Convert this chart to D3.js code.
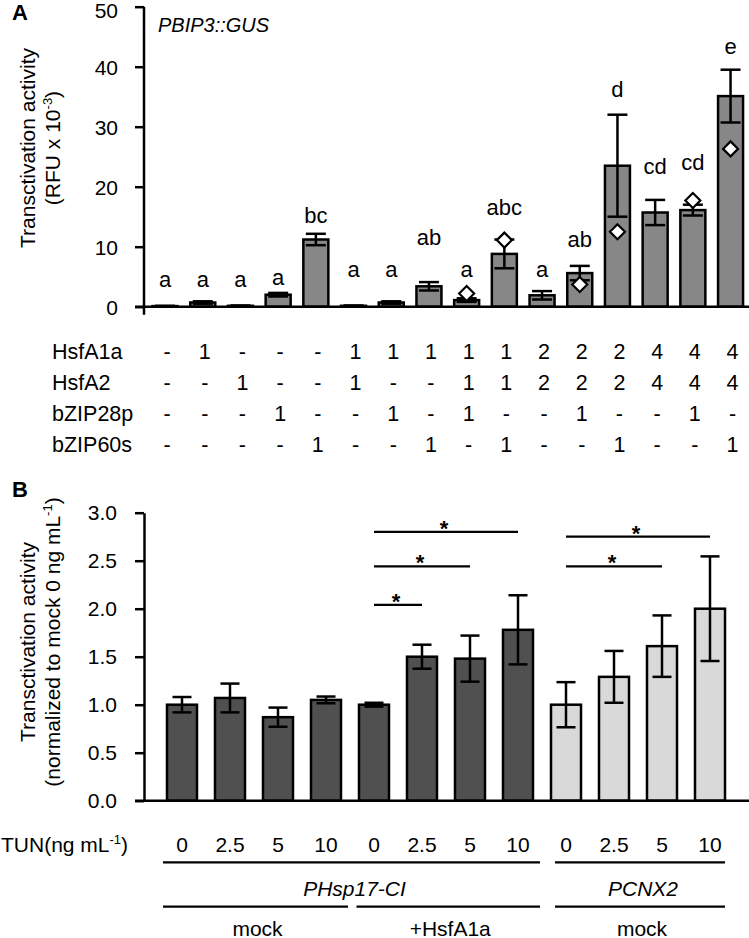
<!DOCTYPE html>
<html><head><meta charset="utf-8">
<script src="https://cdn.jsdelivr.net/npm/d3@7"></script>
<style>
body{margin:0;background:#fff}
svg{display:block}
text{font-family:"Liberation Sans",Arial,Helvetica,sans-serif;fill:#000}
</style>
</head><body>
<svg id="chart" width="749" height="938"></svg>
<script>
// ---------- Panel A data ----------
const aValues  = [0.1, 0.7, 0.15, 2.0, 11.2, 0.15, 0.7, 3.4, 1.1, 8.8, 1.9, 5.6, 23.5, 15.7, 16.1, 35.1];
const aErrors  = [0.05, 0.2, 0.05, 0.3, 0.95, 0.05, 0.2, 0.7, 0.3, 2.4, 0.7, 1.2, 8.5, 2.1, 0.9, 4.4];
const aDiamonds = [null, null, null, null, null, null, null, null, 2.2, 11.1, null, 3.7, 12.5, null, 17.7, 26.3];
const aLetters = ["a","a","a","a","bc","a","a","ab","a","abc","a","ab","d","cd","cd","e"];
const aLetterY = [3.3, 3.3, 3.3, 3.6, 14.0, 4.9, 4.9, 10.3, 4.9, 15.3, 4.9, 10.0, 35.0, 22.2, 22.8, 42.2];
const aYTicks  = [0, 10, 20, 30, 40, 50];
const tableRowNames = ["HsfA1a", "HsfA2", "bZIP28p", "bZIP60s"];
const rowHsfA1a  = ["-","1","-","-","-","1","1","1","1","1","2","2","2","4","4","4"];
const rowHsfA2   = ["-","-","1","-","-","1","-","-","1","1","2","2","2","4","4","4"];
const rowBZIP28p = ["-","-","-","1","-","-","1","-","1","-","-","1","-","-","1","-"];
const rowBZIP60s = ["-","-","-","-","1","-","-","1","-","1","-","-","1","-","-","1"];

// ---------- Panel B data ----------
const bValues = [1.0, 1.07, 0.87, 1.05, 1.0, 1.5, 1.48, 1.78, 1.0, 1.29, 1.61, 2.0];
const bErrors = [0.08, 0.15, 0.1, 0.035, 0.02, 0.125, 0.24, 0.36, 0.235, 0.27, 0.32, 0.545];
const bShade  = ["dark","dark","dark","dark","dark","dark","dark","dark","light","light","light","light"];
const bTun    = ["0","2.5","5","10","0","2.5","5","10","0","2.5","5","10"];
const bYTicks = [0, 0.5, 1.0, 1.5, 2.0, 2.5, 3.0];
const sigFrom = [4, 4, 4, 8, 8];
const sigTo   = [7, 6, 5, 11, 10];
const sigY    = [2.80, 2.44, 2.04, 2.75, 2.44];
const promoterNames = ["PHsp17-CI", "PCNX2"];
const promoterFrom  = [0, 8];
const promoterTo    = [7, 11];
const treatNames = ["mock", "+HsfA1a", "mock"];
const treatFrom  = [0, 4, 8];
const treatTo    = [3, 7, 11];

// ---------- Drawing ----------
const svg = d3.select("#chart");
const FS = 21;
const AX = 144;

// Panel A scales
const xA = d3.scaleBand().domain(d3.range(aValues.length)).range([146.2, 749.4]).paddingInner(0.337).paddingOuter(0.1685);
const yA = d3.scaleLinear().domain([0, 50]).range([306.7, 6.7]);
const gA = svg.append("g");

gA.selectAll("rect.bar").data(aValues).join("rect")
  .attr("x", (d,i) => xA(i)).attr("width", xA.bandwidth())
  .attr("y", d => yA(d)).attr("height", d => yA(0) - yA(d))
  .attr("fill", "#878787").attr("stroke", "#000").attr("stroke-width", 2.5);

function errorBars(g, vals, errs, x, y, half) {
  vals.forEach((v, i) => {
    const cx = x(i) + x.bandwidth() / 2;
    const e = errs[i];
    g.append("line").attr("x1", cx).attr("x2", cx).attr("y1", y(v + e)).attr("y2", y(Math.max(0, v - e)))
      .attr("stroke", "#000").attr("stroke-width", 2.5);
    [v + e, Math.max(0, v - e)].forEach(t => {
      g.append("line").attr("x1", cx - half).attr("x2", cx + half).attr("y1", y(t)).attr("y2", y(t))
        .attr("stroke", "#000").attr("stroke-width", 2.5);
    });
  });
}
errorBars(gA, aValues, aErrors, xA, yA, 10);

aDiamonds.forEach((d, i) => {
  if (d === null) return;
  const cx = xA(i) + xA.bandwidth() / 2, cy = yA(d), r = 7.5;
  gA.append("path").attr("d", `M${cx},${cy - r}L${cx + r},${cy}L${cx},${cy + r}L${cx - r},${cy}Z`)
    .attr("fill", "#fff").attr("stroke", "#000").attr("stroke-width", 2.2);
});

gA.selectAll("text.letter").data(aLetters).join("text")
  .attr("x", (d,i) => xA(i) + xA.bandwidth() / 2).attr("y", (d,i) => yA(aLetterY[i]))
  .attr("text-anchor", "middle").attr("font-size", 22).text(d => d);

const axA = d3.axisLeft(yA).tickValues(aYTicks).tickSize(9).tickSizeOuter(0).tickPadding(17).tickFormat(d3.format("d"));
const gAxA = gA.append("g").attr("transform", `translate(${AX},0)`).call(axA);
gAxA.select(".domain").attr("stroke-width", 2.5).attr("d", `M0,${yA(50)}V${yA(0) + 8}`);
gAxA.selectAll(".tick line").attr("stroke-width", 2.5);
gAxA.selectAll(".tick text").attr("font-size", FS).attr("font-family", "Liberation Sans, Arial, sans-serif").attr("fill", "#000")
  .attr("dy", d => d === 50 ? "0.5em" : "0.35em");
gA.append("line").attr("x1", AX - 9).attr("x2", 749).attr("y1", yA(0)).attr("y2", yA(0))
  .attr("stroke", "#000").attr("stroke-width", 2.5);

svg.append("text").attr("x", 12).attr("y", 20).attr("font-size", 22).attr("font-weight", "bold").text("A");
svg.append("text").attr("x", 158).attr("y", 31.5).attr("font-size", 20).attr("font-style", "italic").text("PBIP3::GUS");
svg.append("text").attr("transform", "translate(28,148) rotate(-90)").attr("dy", "0.35em")
  .attr("text-anchor", "middle").attr("font-size", FS).text("Transctivation activity");
const ya2 = svg.append("text").attr("transform", "translate(53,148) rotate(-90)").attr("dy", "0.35em")
  .attr("text-anchor", "middle").attr("font-size", FS);
ya2.append("tspan").text("(RFU x 10");
ya2.append("tspan").attr("dy", -8).attr("font-size", 13).text("-3");
ya2.append("tspan").attr("dy", 8).text(")");

const tableRows = [rowHsfA1a, rowHsfA2, rowBZIP28p, rowBZIP60s];
const rowBase = [359, 390, 421, 452];
tableRows.forEach((row, r) => {
  svg.append("text").attr("x", 52).attr("y", rowBase[r]).attr("font-size", 21.5).text(tableRowNames[r]);
  row.forEach((v, i) => {
    svg.append("text").attr("x", xA(i) + xA.bandwidth() / 2 + 2).attr("y", rowBase[r])
      .attr("text-anchor", "middle").attr("font-size", 21.5).text(v);
  });
});

// ---------- Panel B ----------
const xB = d3.scaleBand().domain(d3.range(bValues.length)).range([158, 734]).paddingInner(0.375).paddingOuter(0.1875);
const yB = d3.scaleLinear().domain([0, 3]).range([800.7, 512.7]);
const gB = svg.append("g");
const shadeColor = {dark: "#505050", light: "#d9d9d9"};

gB.selectAll("rect.bar").data(bValues).join("rect")
  .attr("x", (d,i) => xB(i)).attr("width", xB.bandwidth())
  .attr("y", d => yB(d)).attr("height", d => yB(0) - yB(d))
  .attr("fill", (d,i) => shadeColor[bShade[i]]).attr("stroke", "#000").attr("stroke-width", 2.5);
errorBars(gB, bValues, bErrors, xB, yB, 9.5);

const axB = d3.axisLeft(yB).tickValues(bYTicks).tickSize(9).tickSizeOuter(0).tickPadding(18).tickFormat(d3.format(".1f"));
const gAxB = gB.append("g").attr("transform", `translate(${AX},0)`).call(axB);
gAxB.select(".domain").attr("stroke-width", 2.5);
gAxB.selectAll(".tick line").attr("stroke-width", 2.5);
gAxB.selectAll(".tick text").attr("font-size", FS).attr("font-family", "Liberation Sans, Arial, sans-serif").attr("fill", "#000");
gB.append("line").attr("x1", AX - 9).attr("x2", 749).attr("y1", yB(0)).attr("y2", yB(0))
  .attr("stroke", "#000").attr("stroke-width", 2.5);

sigFrom.forEach((f, k) => {
  const x1 = xB(f) + xB.bandwidth() / 2, x2 = xB(sigTo[k]) + xB.bandwidth() / 2, yy = yB(sigY[k]);
  gB.append("line").attr("x1", x1).attr("x2", x2).attr("y1", yy).attr("y2", yy)
    .attr("stroke", "#000").attr("stroke-width", 2.2);
  gB.append("text").attr("x", (x1 + x2) / 2 - 2).attr("y", yy + 4).attr("text-anchor", "middle")
    .attr("font-size", 22).attr("font-weight", "bold").text("*");
});

svg.append("text").attr("x", 12).attr("y", 497).attr("font-size", 22).attr("font-weight", "bold").text("B");
svg.append("text").attr("transform", "translate(28,642) rotate(-90)").attr("dy", "0.35em")
  .attr("text-anchor", "middle").attr("font-size", FS).text("Transctivation activity");
const yb2 = svg.append("text").attr("transform", "translate(53,642) rotate(-90)").attr("dy", "0.35em")
  .attr("text-anchor", "middle").attr("font-size", FS);
yb2.append("tspan").text("(normalized to mock 0 ng mL");
yb2.append("tspan").attr("dy", -8).attr("font-size", 13).text("-1");
yb2.append("tspan").attr("dy", 8).text(")");

const tun = svg.append("text").attr("x", 1).attr("y", 851.7).attr("font-size", FS);
tun.append("tspan").text("TUN(ng mL");
tun.append("tspan").attr("dy", -8).attr("font-size", 13).text("-1");
tun.append("tspan").attr("dy", 8).text(")");
bTun.forEach((t, i) => {
  svg.append("text").attr("x", xB(i) + xB.bandwidth() / 2).attr("y", 851.7)
    .attr("text-anchor", "middle").attr("font-size", FS).text(t);
});

const startOff = {0: -4, 4: -2.5, 8: 4};
function groupLine(f, t, yy) {
  const x1 = xB(f) + (startOff[f] || 0), x2 = xB(t) + xB.bandwidth() + (t === bValues.length - 1 ? 0 : 7);
  svg.append("line").attr("x1", x1).attr("x2", x2).attr("y1", yy).attr("y2", yy)
    .attr("stroke", "#000").attr("stroke-width", 2.2);
  return (x1 + x2) / 2;
}
promoterNames.forEach((n, k) => {
  const cx = groupLine(promoterFrom[k], promoterTo[k], 862.3);
  svg.append("text").attr("x", cx + 3).attr("y", 895.7).attr("text-anchor", "middle")
    .attr("font-size", FS).attr("font-style", "italic").text(n);
});
treatNames.forEach((n, k) => {
  const cx = groupLine(treatFrom[k], treatTo[k], 906.7);
  svg.append("text").attr("x", cx + 2).attr("y", 935.5).attr("text-anchor", "middle")
    .attr("font-size", FS).text(n);
});
</script>
</body></html>
